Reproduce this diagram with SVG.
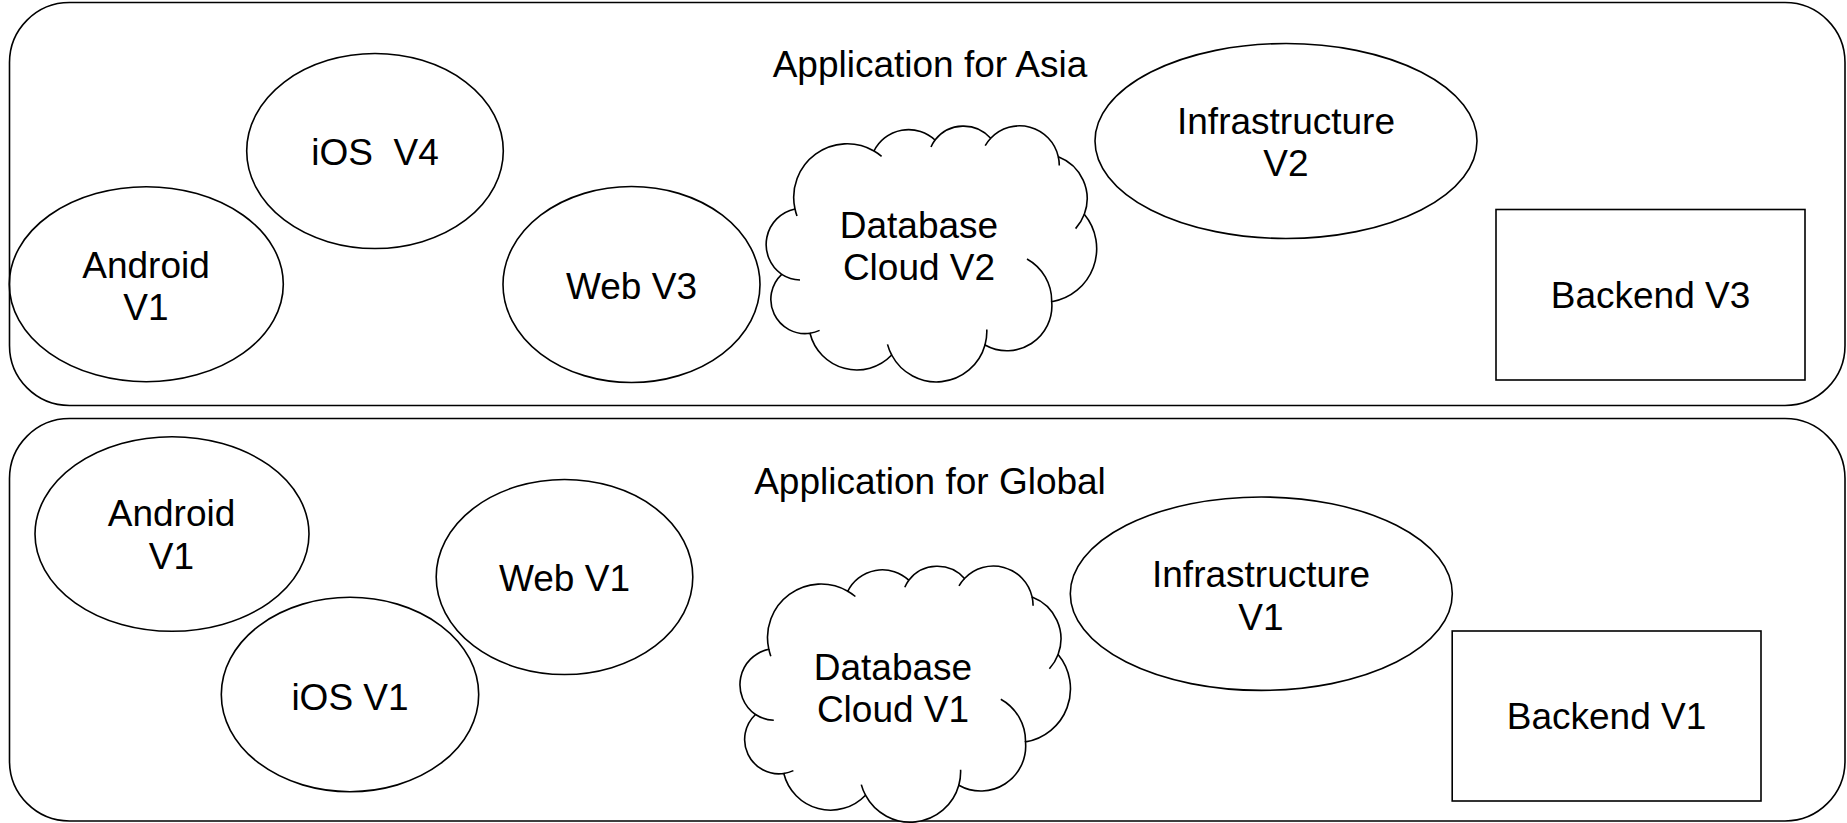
<svg xmlns="http://www.w3.org/2000/svg" xmlns:xlink="http://www.w3.org/1999/xlink" width="1847" height="823" viewBox="0 0 1847 823">
  <style>
    .shape { fill: none; stroke: #000; stroke-width: 1.6; }
    .fillw { fill: #fff; stroke: #000; stroke-width: 1.6; }
    .tail { fill: none; stroke: #000; stroke-width: 1.6; }
    text { font-family: "Liberation Sans", Arial, sans-serif; font-size: 37px; fill: #000; text-anchor: middle; }
    .pre { white-space: pre; }
  </style>
  <defs>
    <g id="cloudShape">
      <path class="fillw" d="M 795,209 A 36.3 36.3 0 0 0 781.7,274.3 A 34.3 34.3 0 0 0 810,333.3 A 48.2 48.2 0 0 0 891.7,355 A 50.5 50.5 0 0 0 985,345 A 44.9 44.9 0 0 0 1051.7,301.7 A 53.8 53.8 0 0 0 1084.3,214.3 A 44.9 44.9 0 0 0 1058.3,156.7 A 39.7 39.7 0 0 0 990.7,138.3 A 36.3 36.3 0 0 0 935,140 A 38.7 38.7 0 0 0 874,151 A 53.5 53.5 0 0 0 795,209 Z"/>
      <path class="tail" d="M 795,209 A 53.5 53.5 0 0 0 797,216 M 781.7,274.3 A 36.3 36.3 0 0 0 800,280 M 810,333.3 A 34.3 34.3 0 0 0 819.6,330.4 M 887.5,344.4 A 50.5 50.5 0 0 0 891.7,355 M 985,345 A 50.5 50.5 0 0 0 986.8,329.5 M 1051.7,301.7 A 48 48 0 0 0 1027,259 M 1075.6,228.6 A 44.9 44.9 0 0 0 1084.3,214.3 M 1059.3,165.5 A 39.7 39.7 0 0 0 1058.3,156.7 M 990.7,138.3 A 39.7 39.7 0 0 0 985.2,145.7 M 935,140 A 36.3 36.3 0 0 0 931,147 M 881.6,156.3 A 53.5 53.5 0 0 0 874,151"/>
    </g>
  </defs>

  <g id="asia-group">
    <rect class="shape" x="9.5" y="2.5" width="1835.5" height="403" rx="60" ry="60"/>
    <text x="930" y="77">Application for Asia</text>
  </g>
  <g id="global-group">
    <rect class="shape" x="9.5" y="418.5" width="1835.5" height="402.5" rx="60" ry="60"/>
    <text x="930" y="494">Application for Global</text>
  </g>

  <g id="connectors"></g>

  <!-- Asia nodes -->
  <g id="asia-ios">
    <ellipse class="shape" cx="375" cy="151" rx="128.3" ry="97.5"/>
    <text class="pre" x="375" y="165">iOS  V4</text>
  </g>
  <g id="asia-android">
    <ellipse class="shape" cx="146.3" cy="284.2" rx="137" ry="97.5"/>
    <text x="146" y="278">Android</text>
    <text x="146" y="320">V1</text>
  </g>
  <g id="asia-web">
    <ellipse class="shape" cx="631.5" cy="284.5" rx="128.5" ry="98"/>
    <text x="631.5" y="299">Web V3</text>
  </g>
  <g id="asia-database">
    <use xlink:href="#cloudShape" href="#cloudShape"/>
    <text x="919" y="237.5">Database</text>
    <text x="919" y="279.5">Cloud V2</text>
  </g>
  <g id="asia-infrastructure">
    <ellipse class="shape" cx="1286" cy="141" rx="191" ry="97.5"/>
    <text x="1286" y="134">Infrastructure</text>
    <text x="1286" y="176">V2</text>
  </g>
  <g id="asia-backend">
    <rect class="shape" x="1496" y="209.5" width="309" height="170.5"/>
    <text x="1650.5" y="308">Backend V3</text>
  </g>

  <!-- Global nodes -->
  <g id="global-android">
    <ellipse class="shape" cx="172" cy="534" rx="137" ry="97.3"/>
    <text x="171.5" y="526">Android</text>
    <text x="171.5" y="569">V1</text>
  </g>
  <g id="global-web">
    <ellipse class="shape" cx="564.5" cy="577" rx="128.3" ry="97.5"/>
    <text x="564.5" y="591">Web V1</text>
  </g>
  <g id="global-ios">
    <ellipse class="shape" cx="350" cy="694.5" rx="128.7" ry="97.2"/>
    <text x="350" y="710">iOS V1</text>
  </g>
  <g id="global-database">
    <use xlink:href="#cloudShape" href="#cloudShape" transform="translate(-26.2,440.2)"/>
    <text x="893" y="679.5">Database</text>
    <text x="893" y="722">Cloud V1</text>
  </g>
  <g id="global-infrastructure">
    <ellipse class="shape" cx="1261.3" cy="593.7" rx="191" ry="96.7"/>
    <text x="1261" y="587">Infrastructure</text>
    <text x="1261" y="629.5">V1</text>
  </g>
  <g id="global-backend">
    <rect class="shape" x="1452.2" y="631" width="308.8" height="170"/>
    <text x="1606.5" y="729">Backend V1</text>
  </g>
</svg>
